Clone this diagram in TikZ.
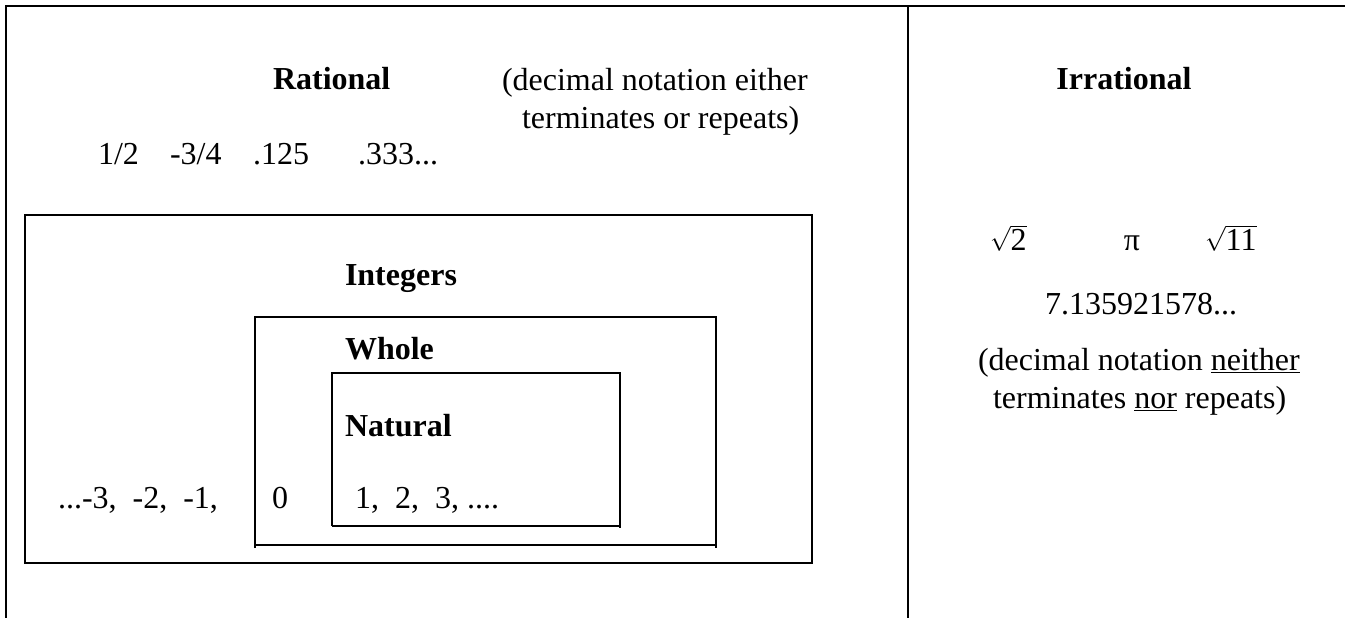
\documentclass[tikz,border=0pt]{standalone}
\usepackage{fontspec}
\setmainfont{Liberation Serif}
\begin{document}
\begin{tikzpicture}[x=1pt,y=-1pt,
  txt/.style={inner sep=0pt, outer sep=0pt, font=\fontsize{32}{38}\selectfont},
  head/.style={inner sep=0pt, outer sep=0pt, font=\fontsize{32}{38}\selectfont\bfseries},
  frame/.style={draw=black, line width=2pt}]
\useasboundingbox (0,0) rectangle (1345,618);
% outer frame and divider
\draw[frame] (6,618) -- (6,6) -- (1346,6);
\draw[frame] (908,6) -- (908,618);
% Integers box
\draw[frame] (25,215) rectangle (812,563);
% Whole box
\draw[frame] (255,548) -- (255,317) -- (716,317) -- (716,548);
\draw[frame] (255,545) -- (716,545);
% Natural box
\draw[frame] (332,526) -- (332,373) -- (620,373) -- (620,528);
\draw[frame] (332,526) -- (620,526);
% Rational texts
\node[head, anchor=base west] (rational) at (273,90) {Rational};
\node[txt, anchor=west, align=left] (ratnote) at (502,101.5) {(decimal notation either\\\hspace*{20pt}terminates or repeats)};
\node[txt, anchor=base west] (r1) at (98,164) {1/2};
\node[txt, anchor=base west] (r2) at (170,164) {-3/4};
\node[txt, anchor=base west] (r3) at (253,164) {.125};
\node[txt, anchor=base west] (r4) at (358,164) {.333...};
% Integers / Whole / Natural
\node[head, anchor=base west] (integers) at (345,285) {Integers};
\node[head, anchor=base west] (whole) at (345,359) {Whole};
\node[head, anchor=base west] (natural) at (345,436) {Natural};
\node[txt, anchor=base west] (neg) at (58,508) {...-3,\ \ -2,\ \ -1,};
\node[txt, anchor=base] (zero) at (280,508) {0};
\node[txt, anchor=base west] (pos) at (355,508) {1,\ \ 2,\ \ 3, ....};
% Irrational
\node[head, anchor=base] (irrational) at (1124,89) {Irrational};
\node[txt, anchor=base west] (sq2) at (990,250) {$\sqrt{\hbox{2}}$};
\node[txt, anchor=base] (pi) at (1132,250) {π};
\node[txt, anchor=base west] (sq11) at (1205,250) {$\sqrt{\hbox{11}}$};
\node[txt, anchor=base] (dec) at (1141,314) {7.135921578...};
\node[txt, anchor=west, align=left] (irrnote) at (978,382) {(decimal notation \underline{neither}\\\hspace*{15pt}terminates \underline{nor} repeats)};
\end{tikzpicture}
\end{document}
